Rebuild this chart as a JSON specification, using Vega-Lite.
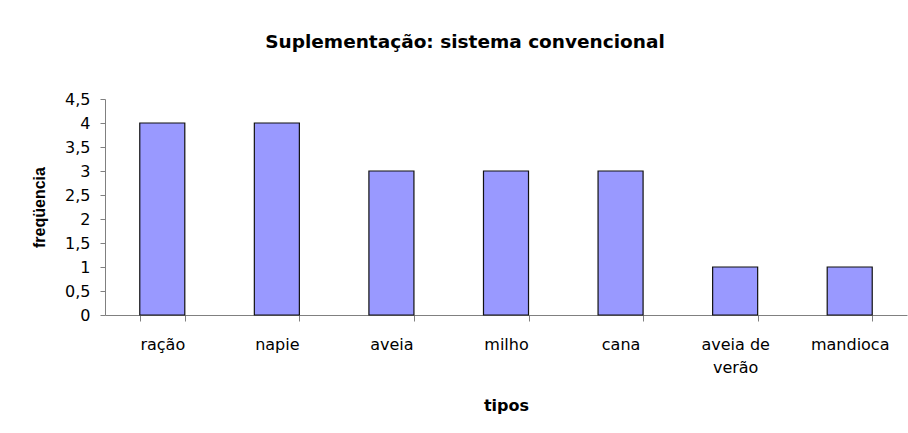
{
  "$schema": "https://vega.github.io/schema/vega-lite/v6.json",
  "autosize": "none",
  "width": 802,
  "height": 216,
  "padding": {"left": 105, "top": 99, "right": 1, "bottom": 118},
  "background": "white",
  "title": {
    "text": "Suplementação: sistema convencional",
    "font": "DejaVu Sans",
    "fontSize": 18.5,
    "fontWeight": "bold",
    "color": "black",
    "anchor": "middle",
    "dx": -41,
    "offset": 40
  },
  "data": {
    "values": [
      {"tipo": "ração", "freq": 4},
      {"tipo": "napie", "freq": 4},
      {"tipo": "aveia", "freq": 3},
      {"tipo": "milho", "freq": 3},
      {"tipo": "cana", "freq": 3},
      {"tipo": "aveia de verão", "freq": 1},
      {"tipo": "mandioca", "freq": 1}
    ]
  },
  "mark": {"type": "bar", "fill": "#9999FF", "stroke": "#111111", "strokeWidth": 1.2},
  "encoding": {
    "x": {
      "field": "tipo",
      "type": "nominal",
      "sort": null,
      "scale": {"paddingInner": 0.607, "paddingOuter": 0.3035},
      "axis": {
        "title": "tipos",
        "titleFont": "DejaVu Sans",
        "titleFontSize": 16,
        "labelAngle": 0,
        "tickBand": "extent",
        "tickSize": 6,
        "labelPadding": 15,
        "labelExpr": "datum.label == 'aveia de verão' ? ['aveia de', 'verão'] : datum.label",
        "labelLineHeight": 23,
        "titlePadding": 22
      }
    },
    "y": {
      "field": "freq",
      "type": "quantitative",
      "scale": {"domain": [0, 4.5], "nice": false},
      "axis": {
        "title": "freqüencia",
        "titleFont": "Liberation Sans",
        "titleFontSize": 16,
        "values": [0, 0.5, 1, 1.5, 2, 2.5, 3, 3.5, 4, 4.5],
        "labelExpr": "replace(toString(datum.value), '.', ',')",
        "grid": false,
        "tickSize": 5,
        "labelPadding": 10,
        "titlePadding": 17
      }
    }
  },
  "config": {
    "view": {"stroke": null},
    "axis": {
      "domainColor": "#808080",
      "tickColor": "#808080",
      "labelColor": "black",
      "titleColor": "black",
      "labelFont": "DejaVu Sans",
      "labelFontSize": 16,
      "titleFontWeight": "bold"
    }
  }
}
